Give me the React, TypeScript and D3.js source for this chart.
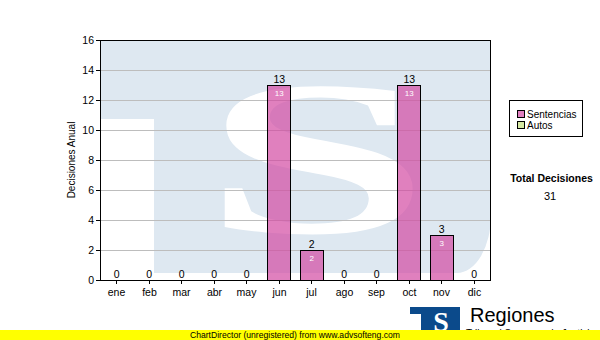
import React, { useLayoutEffect, useRef } from "react";
import * as d3 from "d3";

const months = ["ene", "feb", "mar", "abr", "may", "jun", "jul", "ago", "sep", "oct", "nov", "dic"];
const sentencias = [0, 0, 0, 0, 0, 13, 2, 0, 0, 13, 3, 0];
const autos = [0, 0, 0, 0, 0, 0, 0, 0, 0, 0, 0, 0];
const yTicks = [0, 2, 4, 6, 8, 10, 12, 14, 16];
const legendItems = ["Sentencias", "Autos"];
const legendColors = ["#e07fc0", "#d6e9a3"];
const totalLabel = "Total Decisiones";
const totalValue = "31";

const W = 600;
const H = 340;
const L = 100, R = 490, T = 40, B = 280;
const FONT = "'Liberation Sans', Arial, sans-serif";

export default function App() {
  const sRef = useRef<SVGTextElement>(null);

  useLayoutEffect(() => {
    const el = sRef.current;
    if (!el) return;
    el.removeAttribute("transform");
    const bb = el.getBBox();
    const tx0 = 203, tx1 = 430, ty0 = 36, ty1 = 281;
    const sx = (tx1 - tx0) / bb.width;
    const sy = (ty1 - ty0) / bb.height;
    el.setAttribute(
      "transform",
      `translate(${tx0 - bb.x * sx},${ty0 - bb.y * sy}) scale(${sx},${sy})`
    );
  }, []);

  const x = d3.scaleBand<string>().domain(months).range([L, R]).paddingInner(0.29).paddingOuter(0.145);
  const y = d3.scaleLinear().domain([0, 16]).range([B, T]);
  const totals = sentencias.map((v, i) => v + autos[i]);

  return (
    <svg width={W} height={H} style={{ position: "absolute", left: 0, top: 0, display: "block", background: "#fff" }}>
      <defs>
        <clipPath id="plotClip">
          <rect x={L} y={T} width={R - L} height={B - T} />
        </clipPath>
      </defs>
      <rect x={0} y={0} width={W} height={H} fill="#fff" />
      {/* watermark */}
      <g clipPath="url(#plotClip)">
        <path
          d={`M40,0 H491 V215 A34,58 0 0 1 457,273 H154 V119 H40 Z`}
          fill="#dee8f1"
        />
        <text
          ref={sRef}
          x={0}
          y={0}
          fontFamily="'Liberation Serif', 'DejaVu Serif', serif"
          fontWeight="bold"
          fontSize={100}
          fill="#fff"
        >
          S
        </text>
      </g>
      {/* grid */}
      {yTicks.filter((t) => t > 0 && t < 16).map((t) => (
        <line key={t} x1={L} x2={R} y1={y(t) + 0.5} y2={y(t) + 0.5} stroke="#bdbdbd" strokeWidth={1} />
      ))}
      {/* bars */}
      {sentencias.map((v, i) =>
        v > 0 ? (
          <rect
            key={months[i]}
            x={Math.round(x(months[i])!) + 0.5}
            y={y(v) + 0.5}
            width={Math.round(x.bandwidth())}
            height={y(0) - y(v)}
            fill="rgb(211,74,162)"
            fillOpacity={0.7}
            stroke="#000"
            strokeWidth={1}
          />
        ) : null
      )}
      {/* frame */}
      <rect x={L + 0.5} y={T + 0.5} width={R - L} height={B - T} fill="none" stroke="#000" strokeWidth={1} />
      {/* y axis ticks + labels */}
      {yTicks.map((t) => (
        <g key={t}>
          <line x1={96} x2={L} y1={y(t) + 0.5} y2={y(t) + 0.5} stroke="#000" />
          <text x={94} y={y(t) + 4} textAnchor="end" fontFamily={FONT} fontSize={10.5} fill="#000">
            {t}
          </text>
        </g>
      ))}
      <text
        transform={`translate(75,${(T + B) / 2}) rotate(-90)`}
        textAnchor="middle"
        fontFamily={FONT}
        fontSize={10}
        fill="#000"
      >
        Decisiones Anual
      </text>
      {/* x axis ticks + labels */}
      {months.map((m) => {
        const cx = Math.round(x(m)! + x.bandwidth() / 2) + 0.5;
        return (
          <g key={m}>
            <line x1={cx} x2={cx} y1={B} y2={B + 4} stroke="#000" />
            <text x={cx} y={296} textAnchor="middle" fontFamily={FONT} fontSize={10.5} fill="#000">
              {m}
            </text>
          </g>
        );
      })}
      {/* value labels */}
      {totals.map((v, i) => {
        const cx = x(months[i])! + x.bandwidth() / 2 + 0.5;
        return (
          <text key={"t" + i} x={cx} y={y(v) - 2} textAnchor="middle" fontFamily={FONT} fontSize={10.5} fill="#000">
            {v}
          </text>
        );
      })}
      {sentencias.map((v, i) =>
        v > 0 ? (
          <text
            key={"s" + i}
            x={x(months[i])! + x.bandwidth() / 2 + 0.5}
            y={y(v) + 10.5}
            textAnchor="middle"
            fontFamily={FONT}
            fontSize={8}
            fill="#fff"
          >
            {v}
          </text>
        ) : null
      )}
      {/* legend */}
      <rect x={509.5} y={100.5} width={73} height={36} fill="#fff" stroke="#000" />
      {legendItems.map((name, i) => (
        <g key={name}>
          <rect x={517.5} y={110.5 + i * 11} width={7} height={7} fill={legendColors[i]} stroke="#000" />
          <text x={527} y={117.5 + i * 11.5} fontFamily={FONT} fontSize={10} fill="#000">
            {name}
          </text>
        </g>
      ))}
      <text x={551.5} y={181.5} textAnchor="middle" fontFamily={FONT} fontWeight="bold" fontSize={10.5} fill="#000">
        {totalLabel}
      </text>
      <text x={550} y={200} textAnchor="middle" fontFamily={FONT} fontSize={11} fill="#000">
        {totalValue}
      </text>
      {/* logo */}
      <g>
        <rect x={410} y={307} width={50} height={25} fill="#0b4a8b" />
        <rect x={410} y={314} width={11} height={20} fill="#fff" />
        <text x={441} y={331} textAnchor="middle" fontFamily="'Liberation Serif', serif" fontWeight="bold" fontSize={28} fill="#fff">
          S
        </text>
        <text x={470} y={322} fontFamily={FONT} fontSize={20} fill="#000">
          Regiones
        </text>
        <text x={466} y={337} fontFamily={FONT} fontSize={10} fill="#000">
          Tribunal Supremo de Justicia
        </text>
      </g>
      {/* footer */}
      <rect x={0} y={330} width={W} height={10} fill="#ffff00" />
      <text x={190} y={337.5} fontFamily={FONT} fontSize={9.5} fill="#000" textLength={210} lengthAdjust="spacingAndGlyphs">
        ChartDirector (unregistered) from www.advsofteng.com
      </text>
    </svg>
  );
}
